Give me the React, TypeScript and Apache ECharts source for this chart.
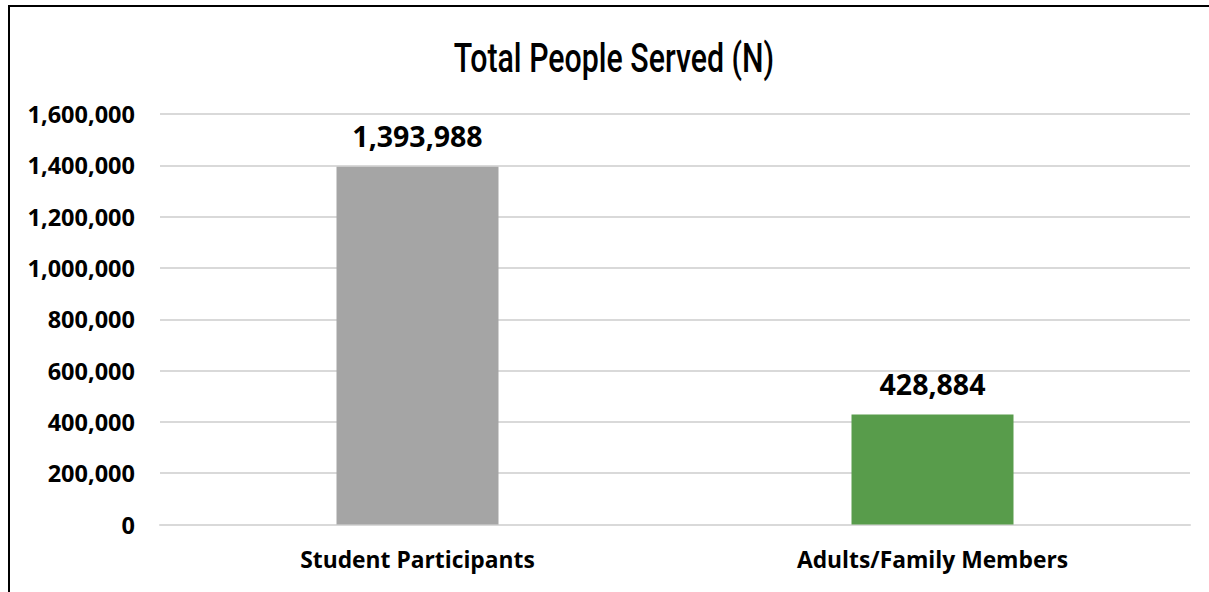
import React, { useEffect, useRef } from "react";
import * as echarts from "echarts";

const categories = ["Student Participants", "Adults/Family Members"];
const values = [1393988, 428884];
const barColors = ["#A5A5A5", "#589C4B"];
const titleText = "Total People Served (N)";
const yMin = 0;
const yMax = 1600000;
const yInterval = 200000;

const fmt = (v: number) => v.toLocaleString("en-US");

export default function App() {
  const ref = useRef<HTMLDivElement>(null);
  useEffect(() => {
    if (!ref.current) return;
    const chart = echarts.init(ref.current, null, { renderer: "svg" });
    chart.setOption({
      animation: false,
      backgroundColor: "#ffffff",
      graphic: [
        {
          type: "rect",
          shape: { x: 9, y: 6, width: 1300, height: 700 },
          style: { fill: "none", stroke: "#000000", lineWidth: 2 },
          silent: true,
        },
        {
          type: "text",
          x: 614,
          y: 58,
          scaleX: 0.74,
          silent: true,
          style: {
            text: titleText,
            x: 0,
            y: 0,
            align: "center",
            verticalAlign: "middle",
            fontFamily: "Roboto, sans-serif",
            fontWeight: 500,
            fontSize: 41,
            fill: "#000000",
          },
        },
      ],
      grid: { left: 160, right: 19, top: 114, bottom: 67.5, containLabel: false },
      xAxis: {
        type: "category",
        data: categories,
        axisLine: { show: true, lineStyle: { color: "#d9d9d9", width: 2 } },
        axisTick: { show: false },
        axisLabel: {
          margin: 23,
          fontFamily: "'Open Sans', sans-serif",
          fontWeight: "bold",
          fontSize: 22.8,
          color: "#000000",
        },
      },
      yAxis: {
        type: "value",
        min: yMin,
        max: yMax,
        interval: yInterval,
        axisLine: { show: false },
        axisTick: { show: false },
        splitLine: { lineStyle: { color: "#d9d9d9", width: 2 } },
        axisLabel: {
          margin: 25,
          formatter: (v: number) => fmt(v),
          fontFamily: "'Open Sans', sans-serif",
          fontWeight: "bold",
          fontSize: 23.5,
          color: "#000000",
        },
      },
      series: [
        {
          type: "bar",
          barWidth: 162,
          data: values.map((v, i) => ({ value: v, itemStyle: { color: barColors[i] } })),
          label: {
            show: true,
            position: "top",
            distance: 16,
            formatter: (p: any) => fmt(p.value),
            fontFamily: "'Open Sans', sans-serif",
            fontWeight: "bold",
            fontSize: 28.5,
            color: "#000000",
          },
        },
      ],
    });
    return () => chart.dispose();
  }, []);
  return (
    <div
      ref={ref}
      style={{ position: "fixed", left: 0, top: 0, width: 1209, height: 592 }}
    />
  );
}
